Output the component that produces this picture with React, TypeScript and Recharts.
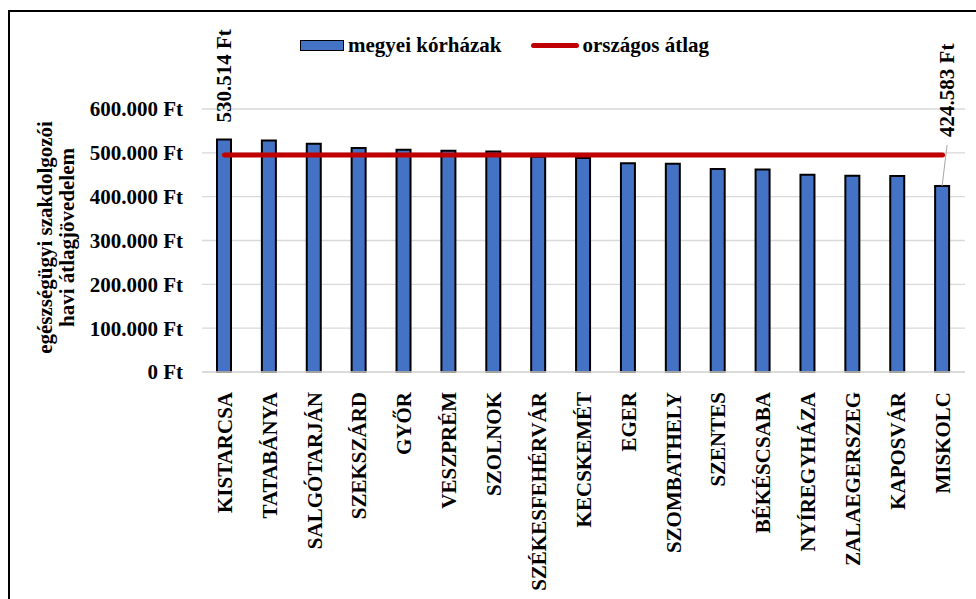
import { Bar, CartesianGrid, ComposedChart, LabelList, Line, XAxis, YAxis } from "recharts"

const hospitals = [
  "KISTARCSA",
  "TATABÁNYA",
  "SALGÓTARJÁN",
  "SZEKSZÁRD",
  "GYŐR",
  "VESZPRÉM",
  "SZOLNOK",
  "SZÉKESFEHÉRVÁR",
  "KECSKEMÉT",
  "EGER",
  "SZOMBATHELY",
  "SZENTES",
  "BÉKÉSCSABA",
  "NYÍREGYHÁZA",
  "ZALAEGERSZEG",
  "KAPOSVÁR",
  "MISKOLC",
]

// havi átlagjövedelem, Ft
const countyIncome = [
  530514, 528000, 520500, 511000, 507000, 505000, 503000, 491000, 488000,
  476000, 475000, 463000, 462000, 450000, 448000, 447000, 424583,
]

const nationalAverage = 495000

const yTicks = [0, 100000, 200000, 300000, 400000, 500000, 600000]

const data = hospitals.map((name, i) => ({
  name,
  income: countyIncome[i],
  avg: nationalAverage,
}))

const FONT = "Liberation Serif, serif"

const ft = (v: number) => String(v).replace(/\B(?=(\d{3})+(?!\d))/g, ".") + " Ft"

const HospitalTick = ({ x, y, payload }: any) => (
  <text
    x={x}
    y={y + 12}
    transform={`rotate(-90, ${x}, ${y + 12})`}
    textAnchor="end"
    dy="0.35em"
    style={{ fontFamily: FONT }}
    fontWeight="bold"
    fontSize={21}
    fill="#000"
  >
    {payload.value}
  </text>
)

// only the highest and the lowest bar get a value label
const EdgeLabel = (props: any) => {
  const { x, y, width, index, value } = props
  const last = countyIncome.length - 1
  if (index !== 0 && index !== last) return null
  const cx = x + width / 2
  if (index === 0) {
    const ty = y - 17
    return (
      <text x={cx} y={ty} transform={`rotate(-90, ${cx}, ${ty})`} dy="0.35em"
        style={{ fontFamily: FONT }} fontWeight="bold" fontSize={21} fill="#000">
        {ft(value)}
      </text>
    )
  }
  const lx = cx + 5
  const ty = y - 49
  return (
    <g>
      <line x1={cx} y1={y} x2={lx} y2={y - 41} stroke="#a6a6a6" strokeWidth={1} />
      <text x={lx} y={ty} transform={`rotate(-90, ${lx}, ${ty})`} dy="0.35em"
        style={{ fontFamily: FONT }} fontWeight="bold" fontSize={21} fill="#000">
        {ft(value)}
      </text>
    </g>
  )
}

const AxisTitle = ({ viewBox }: any) => {
  const cy = viewBox.y + viewBox.height / 2 - 3
  const lines = ["egészségügyi szakdolgozói", "havi átlagjövedelem"]
  return (
    <g>
      {lines.map((t, i) => {
        const lx = viewBox.x + 45 + i * 22
        return (
          <text key={t} x={lx} y={cy} transform={`rotate(-90, ${lx}, ${cy})`}
            textAnchor="middle" dy="0.35em" style={{ fontFamily: FONT }} fontWeight="bold"
            fontSize={21} fill="#000">
            {t}
          </text>
        )
      })}
    </g>
  )
}

export default function App() {
  return (
    <div style={{ position: "absolute", left: 0, top: 0, width: 976, height: 599, overflow: "hidden", background: "#fff", fontFamily: FONT }}>
      <div style={{ position: "absolute", left: 8, top: 10, width: 1000, height: 700, border: "2px solid #000" }} />

      <div style={{ position: "absolute", left: 300, top: 33, display: "flex", alignItems: "center", fontWeight: "bold", fontSize: 21, color: "#000" }}>
        <span style={{ display: "inline-block", width: 42, height: 9, background: "#4472c4", border: "1.5px solid #000", marginRight: 4 }} />
        <span>megyei kórházak</span>
        <span style={{ display: "inline-block", width: 48, height: 5, background: "#c00000", borderRadius: 3, marginLeft: 30, marginRight: 3 }} />
        <span>országos átlag</span>
      </div>

      <ComposedChart
        width={976}
        height={599}
        data={data}
        margin={{ top: 109, right: 11, left: 0, bottom: 0 }}
        style={{ position: "absolute", left: 0, top: 0, fontFamily: FONT }}
      >
        <CartesianGrid vertical={false} stroke="#d9d9d9" strokeWidth={1.3} />
        <XAxis
          dataKey="name"
          height={227}
          interval={0}
          tickLine={false}
          axisLine={{ stroke: "#d9d9d9", strokeWidth: 1.3 }}
          tick={<HospitalTick />}
        />
        <YAxis
          width={202}
          domain={[0, 600000]}
          ticks={yTicks}
          tickFormatter={ft}
          tickLine={false}
          axisLine={false}
          tickSize={0}
          tickMargin={19}
          tick={{ style: { fontFamily: FONT }, fontWeight: "bold", fontSize: 21, fill: "#000" }}
          label={<AxisTitle />}
        />
        <Bar dataKey="income" fill="#4472c4" stroke="#000" strokeWidth={2} barSize={14} isAnimationActive={false}>
          <LabelList dataKey="income" content={<EdgeLabel />} />
        </Bar>
        <Line
          dataKey="avg"
          stroke="#c00000"
          strokeWidth={5}
          strokeLinecap="round"
          dot={false}
          activeDot={false}
          isAnimationActive={false}
        />
      </ComposedChart>
    </div>
  )
}
